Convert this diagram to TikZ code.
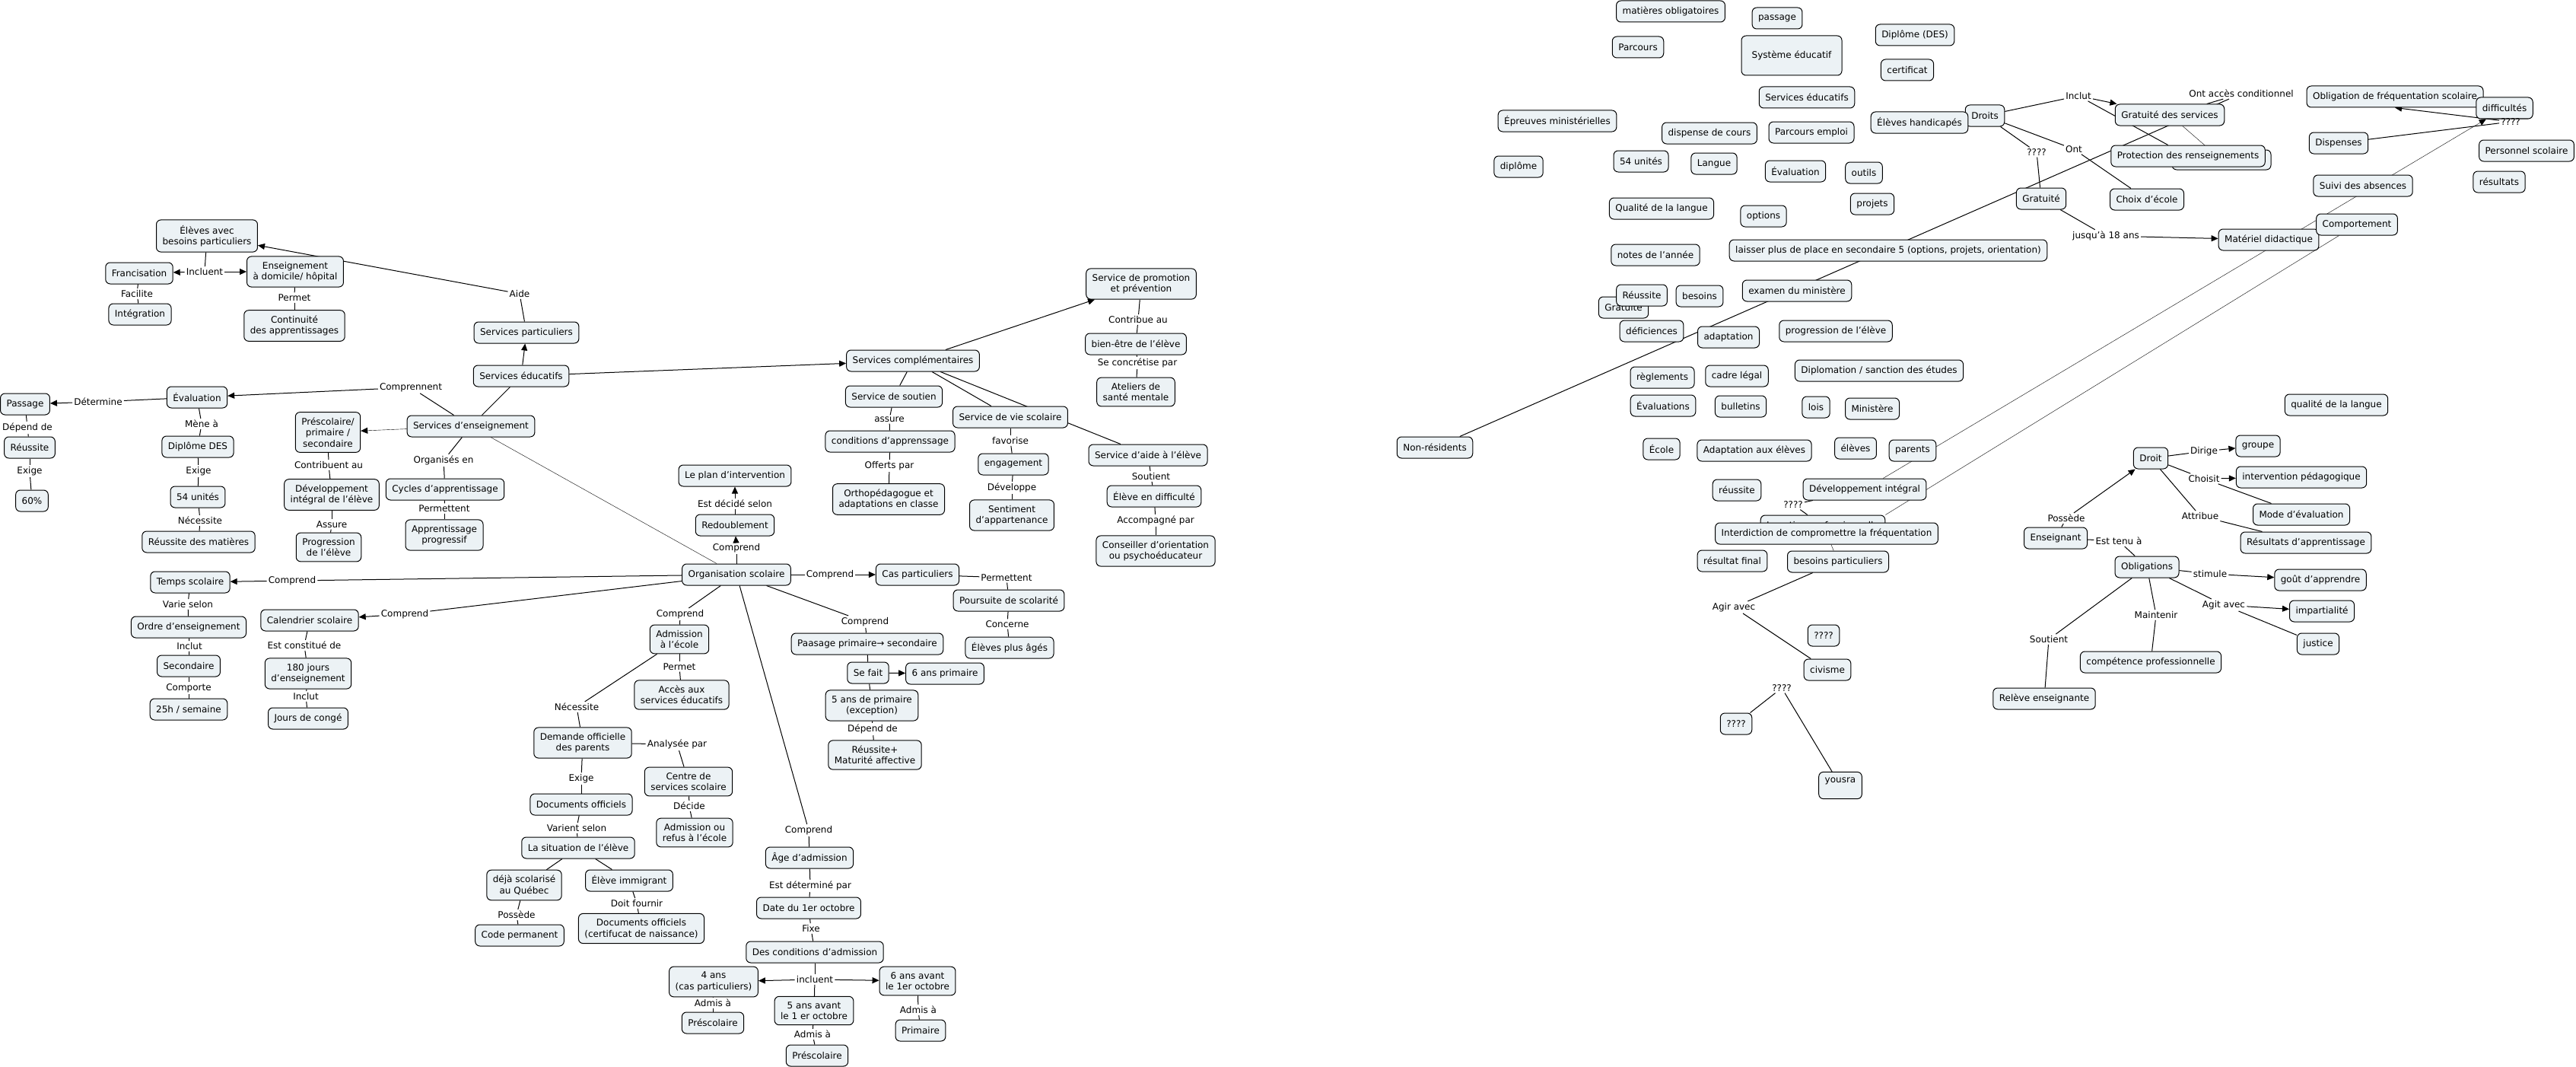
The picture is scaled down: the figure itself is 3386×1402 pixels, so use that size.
\documentclass[tikz,border=0pt]{standalone}
\usepackage{fontspec}
\setmainfont{DejaVu Sans}
\usetikzlibrary{arrows.meta,backgrounds}
\definecolor{cmapfill}{RGB}{236,242,245}
\begin{document}
\begin{tikzpicture}[x=1pt, y=-1pt, font=\fontsize{12}{14.5}\selectfont, line join=round, line cap=round, >={Triangle[length=9pt,width=8pt]},
  box/.style={draw=black, line width=1pt, fill=cmapfill, rounded corners=6pt, align=center, inner xsep=8pt, inner ysep=7pt, minimum height=28pt},
  lab/.style={inner sep=2pt},
  every edge/.style={draw, line width=1pt}]
\useasboundingbox (0,0) rectangle (3386,1402);
\node[box] (elevesBP) at (272,310) {Élèves avec\\besoins particuliers};
\node[box] (francisation) at (183,359) {Francisation};
\node[box] (ensDomicile) at (388,357) {Enseignement\\à domicile/ hôpital};
\node[box] (integration) at (184,413) {Intégration};
\node[box] (continuite) at (387,428) {Continuité\\des apprentissages};
\node[box] (servPart) at (692,437) {Services particuliers};
\node[box] (servEduc) at (685,494) {Services éducatifs};
\node[box] (evaluation) at (259,522) {Évaluation};
\node[box] (passage) at (33,531) {Passage};
\node[box] (reussite) at (39,588) {Réussite};
\node[box] (soixante) at (42,658) {60\%};
\node[box] (diplomeDES) at (260,587) {Diplôme DES};
\node[box] (unites) at (260,653) {54 unités};
\node[box] (reussiteMatieres) at (261,712) {Réussite des matières};
\node[box] (prescolaire) at (431,568) {Préscolaire/\\primaire /\\secondaire};
\node[box] (servEns) at (619,560) {Services d’enseignement};
\node[box] (developpement) at (436,650) {Développement\\intégral de l'élève};
\node[box] (progression) at (432,719) {Progression\\de l'élève};
\node[box] (cycles) at (585,643) {Cycles d'apprentissage};
\node[box] (apprProg) at (584,703) {Apprentissage\\progressif};
\node[box] (tempsScol) at (250,765) {Temps scolaire};
\node[box] (ordre) at (248,824) {Ordre d'enseignement};
\node[box] (secondaire) at (248,875) {Secondaire};
\node[box] (heures) at (248,932) {25h / semaine};
\node[box] (calendrier) at (407,815) {Calendrier scolaire};
\node[box] (jours) at (405,885) {180 jours\\d'enseignement};
\node[box] (conges) at (405,944) {Jours de congé};
\node[box] (planInterv) at (966,625) {Le plan d'intervention};
\node[box] (redoublement) at (966,690) {Redoublement};
\node[box] (orgScol) at (968,755) {Organisation scolaire};
\node[box] (casPart) at (1206,755) {Cas particuliers};
\node[box] (servCompl) at (1200,474) {Services complémentaires};
\node[box] (servPromo) at (1500,373) {Service de promotion\\et prévention};
\node[box] (bienEtre) at (1493,452) {bien-être de l'élève};
\node[box] (ateliers) at (1493,515) {Ateliers de\\santé mentale};
\node[box] (servSoutien) at (1175,521) {Service de soutien};
\node[box] (conditions) at (1170,580) {conditions d'apprenssage};
\node[box] (ortho) at (1168,656) {Orthopédagogue et\\adaptations en classe};
\node[box] (servVie) at (1328,548) {Service de vie scolaire};
\node[box] (engagement) at (1332,610) {engagement};
\node[box] (sentiment) at (1330,677) {Sentiment\\d'appartenance};
\node[box] (servAide) at (1509,598) {Service d'aide à l'élève};
\node[box] (eleveDiff) at (1517,652) {Élève en difficulté};
\node[box] (conseiller) at (1519,724) {Conseiller d'orientation\\ou psychoéducateur};
\node[box] (poursuite) at (1326,789) {Poursuite de scolarité};
\node[box] (elevesAges) at (1327,851) {Élèves plus âgés};
\node[box] (paasage) at (1140,846) {Paasage primaire→ secondaire};
\node[box] (seFait) at (1141,884) {Se fait};
\node[box] (sixAns) at (1242,885) {6 ans primaire};
\node[box] (cinqAns) at (1146,927) {5 ans de primaire\\(exception)};
\node[box] (maturite) at (1150,992) {Réussite+\\Maturité affective};
\node[box] (ageAdm) at (1064,1127) {Âge d'admission};
\node[box] (dateOct) at (1063,1193) {Date du 1er octobre};
\node[box] (condAdm) at (1071,1251) {Des conditions d'admission};
\node[box] (quatreAns) at (938,1290) {4 ans\\(cas particuliers)};
\node[box] (cinqAvant) at (1070,1328) {5 ans avant\\le 1 er octobre};
\node[box] (sixAvant) at (1206,1289) {6 ans avant\\le 1er octobre};
\node[box] (presco2) at (937,1344) {Préscolaire};
\node[box] (presco3) at (1074,1387) {Préscolaire};
\node[box] (primaire) at (1210,1354) {Primaire};
\node[box] (admission) at (893,840) {Admission\\à l'école};
\node[box] (acces) at (896,913) {Accès aux\\services éducatifs};
\node[box] (demande) at (766,976) {Demande officielle\\des parents};
\node[box] (centre) at (905,1027) {Centre de\\services scolaire};
\node[box] (admRefus) at (913,1094) {Admission ou\\refus à l'école};
\node[box] (docs) at (764,1057) {Documents officiels};
\node[box] (situation) at (760,1114) {La situation de l'élève};
\node[box] (deja) at (689,1163) {déjà scolarisé\\au Québec};
\node[box] (immigrant) at (827,1157) {Élève immigrant};
\node[box] (codePerm) at (683,1229) {Code permanent};
\node[box] (docsNaiss) at (843,1220) {Documents officiels\\(certifucat de naissance)};
\node[box] (matieres) at (2196,15) {matières obligatoires};
\node[box] (passageR) at (2336,24) {passage};
\node[box] (parcours) at (2153,62) {Parcours};
\node[box, minimum width=132pt, minimum height=52pt] (systeme) at (2355,73) {Système éducatif};
\node[box] (servEducR) at (2375,128) {Services éducatifs};
\node[box] (epreuves) at (2047,159) {Épreuves ministérielles};
\node[box] (dispense) at (2247,175) {dispense de cours};
\node[box] (parcoursEmploi) at (2381,174) {Parcours emploi};
\node[box] (diplome) at (1996,219) {diplôme};
\node[box] (unitesR) at (2157,212) {54 unités};
\node[box] (langue) at (2253,215) {Langue};
\node[box] (evaluationR) at (2360,225) {Évaluation};
\node[box] (outils) at (2450,227) {outils};
\node[box] (qualite) at (2184,274) {Qualité de la langue};
\node[box] (options) at (2318,284) {options};
\node[box] (projets) at (2461,268) {projets};
\node[box] (notes) at (2176,335) {notes de l’année};
\node[box] (laisser) at (2482,329) {laisser plus de place en secondaire 5 (options, projets, orientation)};
\node[box] (gratuiteB) at (2134,404) {Gratuité};
\node[box] (reussiteR) at (2158,388) {Réussite};
\node[box] (besoins) at (2234,389) {besoins};
\node[box] (examen) at (2362,382) {examen du ministère};
\node[box] (deficiences) at (2171,435) {déficiences};
\node[box] (adaptation) at (2272,443) {adaptation};
\node[box] (progressionR) at (2413,435) {progression de l’élève};
\node[box] (reglements) at (2185,496) {règlements};
\node[box] (cadre) at (2283,494) {cadre légal};
\node[box] (diplomation) at (2470,487) {Diplomation / sanction des études};
\node[box] (evaluations) at (2186,533) {Évaluations};
\node[box] (bulletins) at (2288,534) {bulletins};
\node[box] (lois) at (2387,535) {lois};
\node[box] (ministere) at (2461,537) {Ministère};
\node[box] (nonResidents) at (1886,588) {Non-résidents};
\node[box] (ecole) at (2184,590) {École};
\node[box] (adaptEleves) at (2306,592) {Adaptation aux élèves};
\node[box] (elevesR) at (2439,589) {élèves};
\node[box] (parents) at (2514,592) {parents};
\node[box] (reussiteB) at (2283,644) {réussite};
\node[box] (devInt) at (2451,643) {Développement intégral};
\node[box] (insertion) at (2396,691) {Insertion professionnelle};
\node[box] (interdiction) at (2401,701) {Interdiction de compromettre la fréquentation};
\node[box] (resultatFinal) at (2277,737) {résultat final};
\node[box] (besoinsPart) at (2416,738) {besoins particuliers};
\node[box] (qNode1) at (2397,835) {????};
\node[box] (civisme) at (2402,880) {civisme};
\node[box] (qNode2) at (2282,951) {????};
\node[box] (yousra) at (2419,1032) {yousra\\\mbox{}};
\node[box] (diplomeDESR) at (2517,46) {Diplôme (DES)};
\node[box] (certificat) at (2507,92) {certificat};
\node[box] (droits) at (2609,152) {Droits};
\node[box] (elevesHand) at (2523,161) {Élèves handicapés};
\node[box] (gratServ) at (2852,151) {Gratuité des services};
\node[box, minimum width=130pt, minimum height=26pt] (protBack) at (2920,210) {};
\node[box] (protection) at (2876,205) {Protection des renseignements};
\node[box] (gratuiteR) at (2683,261) {Gratuité};
\node[box] (choix) at (2822,262) {Choix d'école};
\node[box] (materiel) at (2982,315) {Matériel didactique};
\node[box] (obligation) at (3148,127) {Obligation de fréquentation scolaire};
\node[box] (difficultes) at (3292,142) {difficultés};
\node[box] (dispenses) at (3074,188) {Dispenses};
\node[box] (personnel) at (3321,198) {Personnel scolaire};
\node[box] (resultats) at (3285,239) {résultats};
\node[box] (suivi) at (3106,244) {Suivi des absences};
\node[box] (comportement) at (3098,295) {Comportement};
\node[box] (qualiteR) at (3071,532) {qualité de la langue};
\node[box] (droit) at (2827,602) {Droit};
\node[box] (groupe) at (2968,586) {groupe};
\node[box] (intervention) at (3025,627) {intervention pédagogique};
\node[box] (mode) at (3025,676) {Mode d'évaluation};
\node[box] (resultatsApp) at (3031,713) {Résultats d'apprentissage};
\node[box] (enseignant) at (2702,707) {Enseignant};
\node[box] (obligations) at (2822,745) {Obligations};
\node[box] (gout) at (3050,762) {goût d'apprendre};
\node[box] (impartialite) at (3052,803) {impartialité};
\node[box] (justice) at (3047,846) {justice};
\node[box] (competence) at (2827,870) {compétence professionnelle};
\node[box] (releve) at (2687,918) {Relève enseignante};
\node[lab] (lIncluent) at (269,357) {Incluent};
\node[lab] (lFacilite) at (180,386) {Facilite};
\node[lab] (lPermet1) at (387,391) {Permet};
\node[lab] (lAide) at (683,386) {Aide};
\node[lab] (lComprennent) at (540,509) {Comprennent};
\node[lab] (lDetermine) at (129,528) {Détermine};
\node[lab] (lDepend1) at (36,562) {Dépend de};
\node[lab] (lExige1) at (39,619) {Exige};
\node[lab] (lMene) at (265,557) {Mène à};
\node[lab] (lExige2) at (261,619) {Exige};
\node[lab] (lNecessite1) at (263,684) {Nécessite};
\node[lab] (lContribuent) at (432,611) {Contribuent au};
\node[lab] (lAssure) at (436,689) {Assure};
\node[lab] (lOrganises) at (583,605) {Organisés en};
\node[lab] (lPermettent1) at (584,668) {Permettent};
\node[lab] (lComprTemps) at (384,763) {Comprend};
\node[lab] (lVarie) at (247,794) {Varie selon};
\node[lab] (lInclut1) at (249,849) {Inclut};
\node[lab] (lComporte) at (248,904) {Comporte};
\node[lab] (lComprCal) at (532,807) {Comprend};
\node[lab] (lConstitue) at (400,848) {Est constitué de};
\node[lab] (lInclut2) at (402,915) {Inclut};
\node[lab] (lDecide1) at (966,662) {Est décidé selon};
\node[lab] (lComprRed) at (968,720) {Comprend};
\node[lab] (lComprCas) at (1091,755) {Comprend};
\node[lab] (lPermettent2) at (1323,759) {Permettent};
\node[lab] (lConcerne) at (1324,820) {Concerne};
\node[lab] (lContribue) at (1496,420) {Contribue au};
\node[lab] (lConcretise) at (1495,477) {Se concrétise par};
\node[lab] (lAssure2) at (1169,551) {assure};
\node[lab] (lOfferts) at (1169,612) {Offerts par};
\node[lab] (lFavorise) at (1328,579) {favorise};
\node[lab] (lDeveloppe) at (1330,641) {Développe};
\node[lab] (lSoutient1) at (1513,626) {Soutient};
\node[lab] (lAccompagne) at (1519,684) {Accompagné par};
\node[lab] (lComprPaas) at (1137,817) {Comprend};
\node[lab] (lDepend2) at (1147,958) {Dépend de};
\node[lab] (lComprAge) at (1063,1091) {Comprend};
\node[lab] (lDetermine2) at (1065,1164) {Est déterminé par};
\node[lab] (lFixe) at (1066,1220) {Fixe};
\node[lab] (lIncluent2) at (1071,1287) {incluent};
\node[lab] (lAdmis1) at (937,1318) {Admis à};
\node[lab] (lAdmis2) at (1068,1359) {Admis à};
\node[lab] (lAdmis3) at (1207,1327) {Admis à};
\node[lab] (lComprAdm) at (894,807) {Comprend};
\node[lab] (lPermet2) at (893,876) {Permet};
\node[lab] (lNecessite2) at (758,929) {Nécessite};
\node[lab] (lAnalysee) at (890,978) {Analysée par};
\node[lab] (lDecide2) at (906,1059) {Décide};
\node[lab] (lExige3) at (764,1023) {Exige};
\node[lab] (lVarient) at (758,1088) {Varient selon};
\node[lab] (lPossede1) at (679,1202) {Possède};
\node[lab] (lFournir) at (837,1187) {Doit fournir};
\node[lab] (lAgir) at (2279,798) {Agir avec};
\node[lab] (lQ1) at (2342,904) {????};
\node[lab] (lQdev) at (2357,663) {????};
\node[lab] (lOntAcces) at (2946,123) {Ont accès conditionnel};
\node[lab] (lInclut3) at (2732,126) {Inclut};
\node[lab] (lQdroits) at (2677,200) {????};
\node[lab] (lOnt) at (2726,196) {Ont};
\node[lab] (lJusqua) at (2768,310) {jusqu'à 18 ans};
\node[lab] (lQobl) at (3300,160) {????};
\node[lab] (lDirige) at (2897,593) {Dirige};
\node[lab] (lChoisit) at (2897,629) {Choisit};
\node[lab] (lAttribue) at (2892,678) {Attribue};
\node[lab] (lPossede2) at (2716,681) {Possède};
\node[lab] (lTenu) at (2785,711) {Est tenu à};
\node[lab] (lStimule) at (2905,754) {stimule};
\node[lab] (lAgit) at (2923,795) {Agit avec};
\node[lab] (lMaintenir) at (2834,808) {Maintenir};
\node[lab] (lSoutient2) at (2693,840) {Soutient};
\begin{scope}[on background layer, line width=1pt]
\fill[white] (0,0) rectangle (3386,1402);
\draw (lIncluent) edge (elevesBP) edge[->] (francisation) edge[->] (ensDomicile);
\draw (lFacilite) edge (francisation) edge (integration);
\draw (lPermet1) edge (ensDomicile) edge (continuite);
\draw (lAide) edge (servPart) edge[->] (elevesBP);
\draw (servEduc) edge[->] (servPart) edge[->] (servCompl) edge (servEns);
\draw (lComprennent) edge (servEns) edge[->] (evaluation);
\draw (lDetermine) edge (evaluation) edge[->] (passage);
\draw (lDepend1) edge (passage) edge (reussite);
\draw (lExige1) edge (reussite) edge (soixante);
\draw (lMene) edge (evaluation) edge (diplomeDES);
\draw (lExige2) edge (diplomeDES) edge (unites);
\draw (lNecessite1) edge (unites) edge (reussiteMatieres);
\draw[->] (servEns) -- (prescolaire);
\draw (lContribuent) edge (prescolaire) edge (developpement);
\draw (lAssure) edge (developpement) edge (progression);
\draw (lOrganises) edge (servEns) edge (cycles);
\draw (lPermettent1) edge (cycles) edge (apprProg);
\draw (servEns) -- (orgScol);
\draw (lComprTemps) edge (orgScol) edge[->] (tempsScol);
\draw (lVarie) edge (tempsScol) edge (ordre);
\draw (lInclut1) edge (ordre) edge (secondaire);
\draw (lComporte) edge (secondaire) edge (heures);
\draw (lComprCal) edge (orgScol) edge[->] (calendrier);
\draw (lConstitue) edge (calendrier) edge (jours);
\draw (lInclut2) edge (jours) edge (conges);
\draw (lComprRed) edge (orgScol) edge[->] (redoublement);
\draw (lDecide1) edge (redoublement) edge[->] (planInterv);
\draw (lComprCas) edge (orgScol) edge[->] (casPart);
\draw (lPermettent2) edge (casPart) edge (poursuite);
\draw (lConcerne) edge (poursuite) edge (elevesAges);
\draw (servCompl) edge[->] (servPromo) edge (servSoutien) edge (servVie) edge (servAide);
\draw (lContribue) edge (servPromo) edge (bienEtre);
\draw (lConcretise) edge (bienEtre) edge (ateliers);
\draw (lAssure2) edge (servSoutien) edge (conditions);
\draw (lOfferts) edge (conditions) edge (ortho);
\draw (lFavorise) edge (servVie) edge (engagement);
\draw (lDeveloppe) edge (engagement) edge (sentiment);
\draw (lSoutient1) edge (servAide) edge (eleveDiff);
\draw (lAccompagne) edge (eleveDiff) edge (conseiller);
\draw (lComprPaas) edge (orgScol) edge (paasage);
\draw (seFait) edge (paasage) edge[->] (sixAns) edge (cinqAns);
\draw (lDepend2) edge (cinqAns) edge (maturite);
\draw (lComprAge) edge (orgScol) edge (ageAdm);
\draw (lDetermine2) edge (ageAdm) edge (dateOct);
\draw (lFixe) edge (dateOct) edge (condAdm);
\draw (lIncluent2) edge (condAdm) edge[->] (quatreAns) edge[->] (sixAvant) edge (cinqAvant);
\draw (lAdmis1) edge (quatreAns) edge (presco2);
\draw (lAdmis2) edge (cinqAvant) edge (presco3);
\draw (lAdmis3) edge (sixAvant) edge (primaire);
\draw (lComprAdm) edge (orgScol) edge (admission);
\draw (lPermet2) edge (admission) edge (acces);
\draw (lNecessite2) edge (admission) edge (demande);
\draw (lAnalysee) edge (demande) edge (centre);
\draw (lDecide2) edge (centre) edge (admRefus);
\draw (lExige3) edge (demande) edge (docs);
\draw (lVarient) edge (docs) edge (situation);
\draw (situation) edge (deja) edge (immigrant);
\draw (lPossede1) edge (deja) edge (codePerm);
\draw (lFournir) edge (immigrant) edge (docsNaiss);
\draw (lOntAcces) edge (nonResidents) edge (gratServ);
\draw (lInclut3) edge (droits) edge[->] (gratServ) edge (protection);
\draw (gratServ) -- (protBack);
\draw (lQdroits) edge (droits) edge (gratuiteR);
\draw (lOnt) edge (droits) edge (choix);
\draw (lJusqua) edge (gratuiteR) edge[->] (materiel);
\draw[->] (devInt) -- (difficultes);
\draw (comportement) -- (insertion.north east);
\draw (lQdev) edge (devInt) edge (insertion);
\draw (interdiction) -- (besoinsPart);
\draw (lAgir) edge (besoinsPart) edge (civisme);
\draw (lQ1) edge (qNode2) edge (yousra);
\draw (lQobl) edge[->] (obligation.south) edge (dispenses);
\draw (lPossede2) edge (enseignant) edge[->] (droit);
\draw (lDirige) edge (droit) edge[->] (groupe);
\draw (lChoisit) edge (droit) edge[->] (intervention) edge (mode);
\draw (lAttribue) edge (droit) edge (resultatsApp);
\draw (lTenu) edge (enseignant) edge (obligations);
\draw (lStimule) edge (obligations) edge[->] (gout);
\draw (lAgit) edge (obligations) edge[->] (impartialite) edge (justice);
\draw (lMaintenir) edge (obligations) edge (competence);
\draw (lSoutient2) edge (obligations) edge (releve);
\end{scope}
\end{tikzpicture}
\end{document}
